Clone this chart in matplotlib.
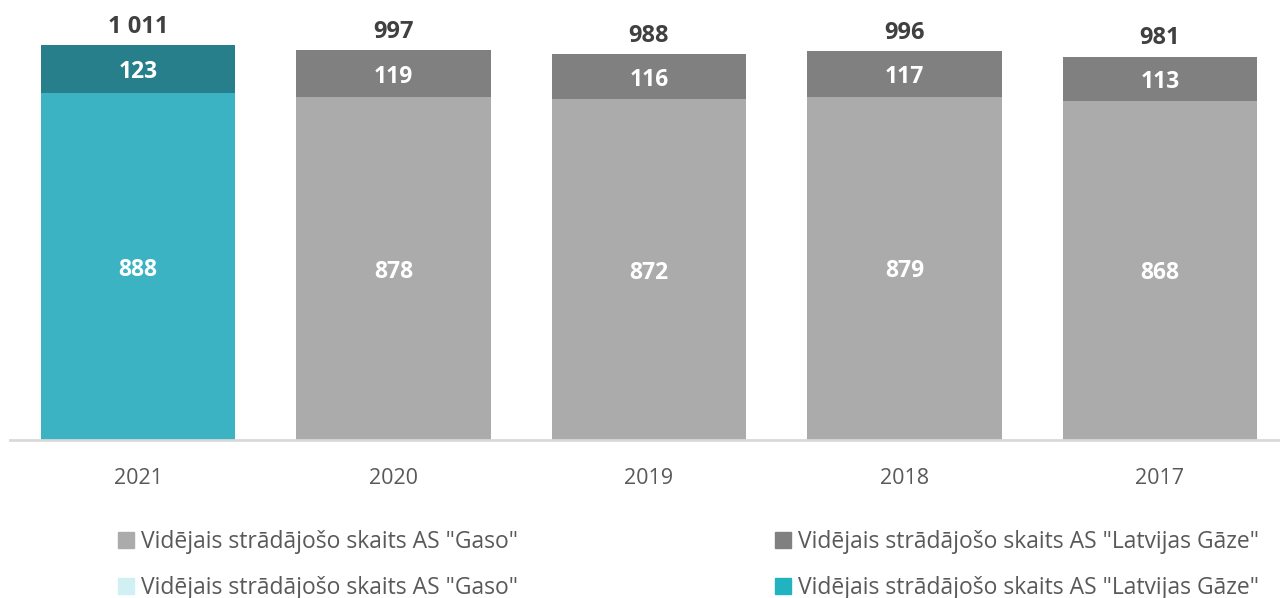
import matplotlib
matplotlib.use("Agg")
import matplotlib.pyplot as plt
from matplotlib.patches import Patch

plt.rcParams['font.family'] = ['Open Sans', 'DejaVu Sans']

years = ["2021", "2020", "2019", "2018", "2017"]
gaso = [888, 878, 872, 879, 868]
latvijas = [123, 119, 116, 117, 113]
legend_labels = ['Vidējais strādājošo skaits AS "Gaso"',
                 'Vidējais strādājošo skaits AS "Latvijas Gāze"']

bottom_colors = ["#3bb3c3"] + ["#ababab"] * 4
top_colors = ["#277f8b"] + ["#808080"] * 4

fig = plt.figure(figsize=(12.8, 5.98), dpi=100)
ax = fig.add_axes([0.008, 0.264, 0.998, 0.736])

x = list(range(len(years)))
w = 0.76
ax.bar(x, gaso, width=w, color=bottom_colors, zorder=2)
ax.bar(x, latvijas, width=w, bottom=gaso, color=top_colors, zorder=2)

for i in x:
    ax.text(i, gaso[i] / 2, str(gaso[i]), ha='center', va='center_baseline',
            color='white', fontsize=16.5, fontweight='bold')
    ax.text(i, gaso[i] + latvijas[i] / 2, str(latvijas[i]), ha='center',
            va='center_baseline', color='white', fontsize=16.5, fontweight='bold')
    total = gaso[i] + latvijas[i]
    ax.text(i, total + 16, f"{total:,}".replace(",", " "), ha='center',
            va='bottom', color='#404040', fontsize=17, fontweight='bold')

ax.set_xlim(-0.5, len(years) - 0.5)
ax.set_ylim(0, 1126)
ax.set_xticks(x)
ax.set_xticklabels(years, fontsize=15.5, color='#595959')
ax.tick_params(axis='x', length=0, pad=20)
ax.set_yticks([])
for s in ['top', 'right', 'left']:
    ax.spines[s].set_visible(False)
ax.spines['bottom'].set_color('#d9d9d9')
ax.spines['bottom'].set_linewidth(2)

leg_kw = dict(frameon=False, fontsize=16.5, labelcolor='#595959',
              handlelength=0.7, handleheight=0.7, handletextpad=0.3,
              labelspacing=0.95, borderpad=0, borderaxespad=0,
              loc='upper left')
h_left = [Patch(color="#ababab"), Patch(color="#d0f0f3")]
h_right = [Patch(color="#808080"), Patch(color="#22b3c0")]
ytop = 1 - 530 / 598
fig.legend(h_left, [legend_labels[0]] * 2,
           bbox_to_anchor=(118 / 1280, ytop), **leg_kw)
fig.legend(h_right, [legend_labels[1]] * 2,
           bbox_to_anchor=(775 / 1280, ytop), **leg_kw)

fig.savefig("out.png", dpi=100)
